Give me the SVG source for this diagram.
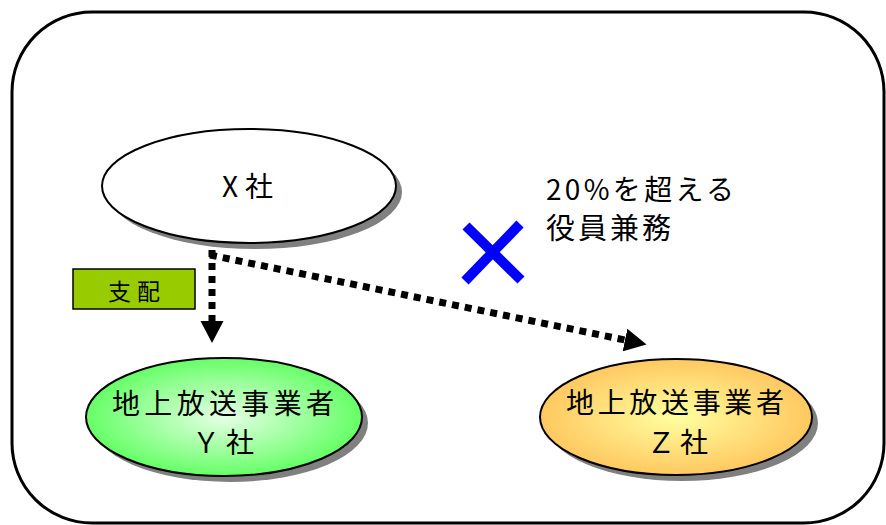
<svg xmlns="http://www.w3.org/2000/svg" width="886" height="525" viewBox="0 0 886 525">
<style>
text{font-family:"Noto Sans CJK JP","Noto Sans CJK SC",sans-serif;fill:#000}
.node{stroke:#000;stroke-width:2}
.shadow{fill:#808080}
.dash{fill:none;stroke:#000;stroke-width:7;stroke-dasharray:7 6}
</style>
<defs>
<radialGradient id="gGreen" cx="50%" cy="50%" r="50%">
<stop offset="0" stop-color="#e6ffe6"/>
<stop offset="1" stop-color="#66ff66"/>
</radialGradient>
<radialGradient id="gOrange" cx="50%" cy="50%" r="50%">
<stop offset="0" stop-color="#ffffa0"/>
<stop offset="1" stop-color="#ffc860"/>
</radialGradient>
<marker id="arr" markerUnits="userSpaceOnUse" markerWidth="24" markerHeight="24" refX="0" refY="11.5" orient="auto" viewBox="0 0 24 23">
<path d="M0,0 L22,11.5 L0,23 z" fill="#000"/>
</marker>
</defs>
<rect x="12" y="12" width="872" height="511" rx="80" ry="80" fill="#fff" stroke="#000" stroke-width="3"/>
<g id="nodeX">
<ellipse class="shadow" cx="255" cy="192" rx="147" ry="57"/>
<ellipse class="node" cx="249" cy="186" rx="147" ry="57" fill="#fff"/>
<text x="222" y="197" font-size="28" textLength="51" lengthAdjust="spacing">X社</text>
</g>
<g id="nodeY">
<ellipse class="shadow" cx="230" cy="423" rx="138" ry="59"/>
<ellipse class="node" cx="224" cy="417" rx="138" ry="59" fill="url(#gGreen)"/>
<text x="112" y="414" font-size="28" textLength="222" lengthAdjust="spacing">地上放送事業者</text>
<text x="192" y="453" font-size="28" textLength="62" lengthAdjust="spacing">Ｙ社</text>
</g>
<g id="nodeZ">
<ellipse class="shadow" cx="682" cy="423" rx="136" ry="58"/>
<ellipse class="node" cx="676" cy="417" rx="136" ry="58" fill="url(#gOrange)"/>
<text x="566" y="413" font-size="28" textLength="218" lengthAdjust="spacing">地上放送事業者</text>
<text x="647" y="453" font-size="28" textLength="61" lengthAdjust="spacing">Ｚ社</text>
</g>
<g id="labelShihai">
<rect x="73" y="269" width="122" height="40" fill="#99cc00" stroke="#000" stroke-width="1.5"/>
<text x="108" y="300" font-size="23" textLength="52" lengthAdjust="spacing">支配</text>
</g>
<g id="labelYakuin">
<text x="546" y="200" font-size="28" textLength="188" lengthAdjust="spacing">20%を超える</text>
<text x="546" y="239" font-size="29" textLength="125" lengthAdjust="spacing">役員兼務</text>
</g>
<g id="crossMark">
<path d="M466,226 L521,280 M520,224 L465,281" stroke="#0000ff" stroke-width="10" fill="none"/>
</g>
<g id="connectors">
<line class="dash" x1="212" y1="250" x2="212" y2="321" marker-end="url(#arr)"/>
<line class="dash" x1="210" y1="255" x2="625" y2="340" marker-end="url(#arr)"/>
</g>
</svg>
